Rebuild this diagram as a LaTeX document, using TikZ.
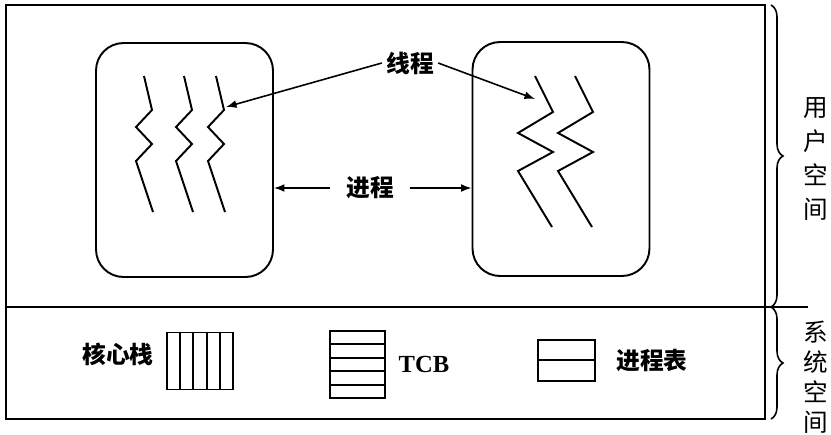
\documentclass[tikz,border=0pt]{standalone}
\usepackage{fontspec}
\setmainfont{Liberation Serif}
\newfontfamily\cjk{Noto Sans CJK SC}
\usetikzlibrary{arrows.meta, positioning, calc, decorations.pathreplacing}

\begin{document}
\begin{tikzpicture}[
    x=0.02cm, y=-0.02cm,
    line width=1.1pt,
    procbox/.style={draw, rounded corners=0.55cm, minimum width=3.54cm, minimum height=4.68cm, inner sep=0pt},
    tblbox/.style={draw, inner sep=0pt},
    lbl/.style={font=\cjk\bfseries\fontsize{13.5pt}{16pt}\selectfont, inner sep=2pt},
    sidetxt/.style={font=\cjk\fontsize{14pt}{19.5pt}\selectfont, align=center, inner sep=0pt},
    arrow/.style={-{Latex[length=6pt,width=4.5pt]}, line width=0.9pt},
    thread/.style={line width=1.1pt, line join=miter},
    bracket/.style={decorate, decoration={brace, amplitude=0.24cm}, line width=0.9pt}
]
    \useasboundingbox (0,0) rectangle (831,434);

    % Outer frame - user space above, system space below
    \draw (6,5) rectangle (765,419);
    \draw (6,307) -- (808,307);

    % Processes
    \node[procbox] (procL) at (184.5,160) {};
    \node[procbox] (procR) at (561,159) {};

    % Threads in left process
    \foreach \dx in {0,40,72}
        \draw[thread] ({144+\dx},76) -- ({152+\dx},110) -- ({136+\dx},127) -- ({152+\dx},144) -- ({136+\dx},161) -- ({153+\dx},212);
    % Threads in right process
    \foreach \dx in {0,40}
        \draw[thread] ({535+\dx},76) -- ({553+\dx},112) -- ({518+\dx},133) -- ({553+\dx},152) -- ({518+\dx},171) -- ({552+\dx},227);

    % Labels and arrows
    \node[lbl] (thr) at (410,63) {线程};
    \coordinate (thrL) at (226,107);
    \coordinate (thrR) at (535,99);
    \draw[arrow] (thr.west) -- (thrL);
    \draw[arrow] (thr.east) -- (thrR);

    \node[lbl, inner xsep=0.3cm] (proc) at (370,188) {进程};
    \draw[arrow] (proc.west) -- (proc.west -| procL.east);
    \draw[arrow] (proc.east) -- (proc.east -| procR.west);

    % System space tables
    \node[tblbox, minimum width=1.31cm, minimum height=1.14cm] (stack) at (200,361) {};
    \foreach \i in {1,...,4}
        \draw ($(stack.north west)!\i/5!(stack.north east)$) -- ($(stack.south west)!\i/5!(stack.south east)$);
    \node[lbl] (stacktxt) at (118,354) {核心栈};

    \node[tblbox, minimum width=1.1cm, minimum height=1.34cm] (tcb) at (357.5,364.5) {};
    \foreach \i in {1,...,4}
        \draw ($(tcb.north west)!\i/5!(tcb.south west)$) -- ($(tcb.north east)!\i/5!(tcb.south east)$);
    \node[font=\bfseries\fontsize{14pt}{16pt}\selectfont, inner sep=2pt] (tcbtxt) at (424,364) {TCB};

    \node[tblbox, minimum width=1.14cm, minimum height=0.82cm] (ptab) at (566.5,360.3) {};
    \draw (ptab.west) -- (ptab.east);
    \node[lbl] (ptabtxt) at (652,361) {进程表};

    % Braces on the right
    \draw[bracket] (771,5) -- (771,307);
    \draw[bracket] (771,307) -- (771,419);
    \node[sidetxt] (user) at (816,159) {用\\户\\空\\间};
    \node[sidetxt, font=\cjk\fontsize{14pt}{17pt}\selectfont] (sys) at (816,377) {系\\统\\空\\间};
\end{tikzpicture}
\end{document}
